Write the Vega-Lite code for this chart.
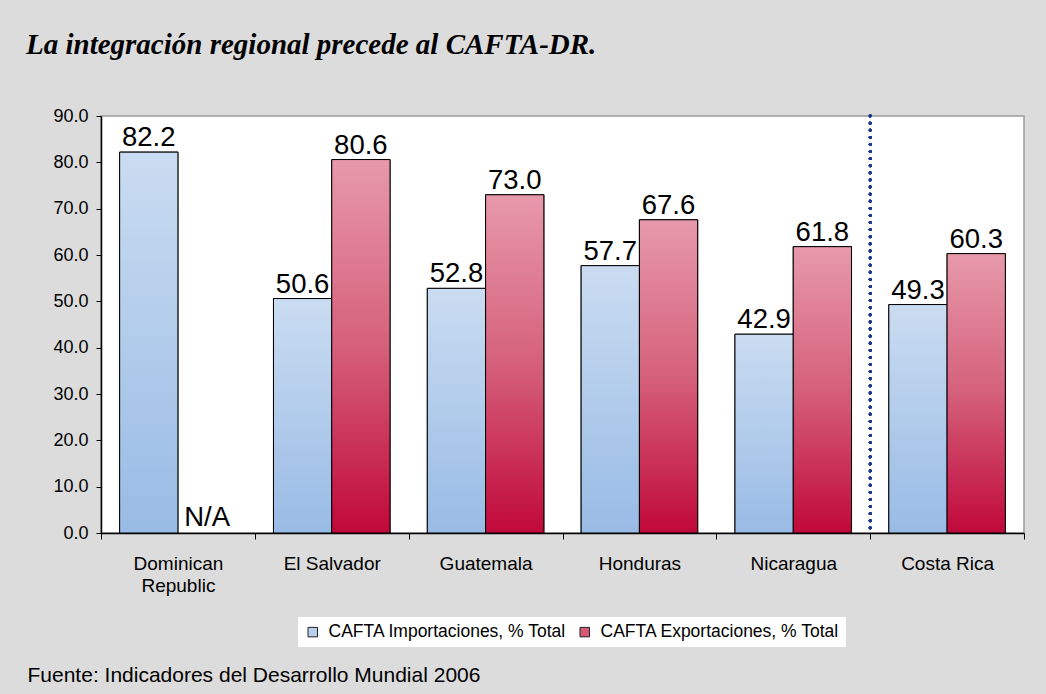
{
  "$schema": "https://vega.github.io/schema/vega-lite/v6.json",
  "width": 923,
  "height": 417,
  "autosize": {"type": "none"},
  "padding": {"left": 101, "top": 116, "right": 22, "bottom": 161},
  "background": "#dcdcdc",
  "config": {
    "view": {"fill": "white", "stroke": "#9a9a9a", "strokeWidth": 1.5},
    "font": "Liberation Sans"
  },
  "title": {
    "text": "La integración regional precede al CAFTA-DR.",
    "font": "Liberation Serif",
    "fontSize": 29,
    "fontWeight": "bold",
    "fontStyle": "italic",
    "anchor": "start",
    "frame": "group",
    "dx": -75,
    "offset": 47,
    "color": "black"
  },
  "data": {
    "values": [
      {"country": "Dominican Republic", "series": "CAFTA Importaciones, % Total", "value": 82.2},
      {"country": "Dominican Republic", "series": "CAFTA Exportaciones, % Total", "value": null},
      {"country": "El Salvador", "series": "CAFTA Importaciones, % Total", "value": 50.6},
      {"country": "El Salvador", "series": "CAFTA Exportaciones, % Total", "value": 80.6},
      {"country": "Guatemala", "series": "CAFTA Importaciones, % Total", "value": 52.8},
      {"country": "Guatemala", "series": "CAFTA Exportaciones, % Total", "value": 73.0},
      {"country": "Honduras", "series": "CAFTA Importaciones, % Total", "value": 57.7},
      {"country": "Honduras", "series": "CAFTA Exportaciones, % Total", "value": 67.6},
      {"country": "Nicaragua", "series": "CAFTA Importaciones, % Total", "value": 42.9},
      {"country": "Nicaragua", "series": "CAFTA Exportaciones, % Total", "value": 61.8},
      {"country": "Costa Rica", "series": "CAFTA Importaciones, % Total", "value": 49.3},
      {"country": "Costa Rica", "series": "CAFTA Exportaciones, % Total", "value": 60.3}
    ]
  },
  "encoding": {
    "x": {
      "field": "country",
      "type": "nominal",
      "sort": null,
      "scale": {"paddingInner": 0, "paddingOuter": 0},
      "axis": {
        "title": "Fuente: Indicadores del Desarrollo Mundial 2006",
        "titleFont": "Liberation Sans",
        "titleFontSize": 21,
        "titleFontWeight": "normal",
        "titleColor": "black",
        "titleAnchor": "start",
        "titleAlign": "left",
        "titleBaseline": "alphabetic",
        "titleX": -74,
        "titleY": 148,
        "labelAngle": 0,
        "labelFontSize": 19,
        "labelColor": "black",
        "labelLineHeight": 22,
        "labelPadding": 15,
        "labelExpr": "datum.label == 'Dominican Republic' ? ['Dominican', 'Republic'] : datum.label",
        "tickBand": "extent",
        "tickSize": 6,
        "tickColor": "black",
        "domainColor": "black",
        "domainWidth": 1.5
      }
    }
  },
  "layer": [
    {
      "mark": {"type": "bar", "stroke": "black", "strokeWidth": 1},
      "encoding": {
        "xOffset": {"field": "series", "sort": null, "scale": {"paddingOuter": 0.32, "paddingInner": 0}},
        "y": {
          "field": "value",
          "type": "quantitative",
          "scale": {"domain": [0, 90], "nice": false},
          "axis": {
            "title": null,
            "values": [0, 10, 20, 30, 40, 50, 60, 70, 80, 90],
            "format": ".1f",
            "grid": false,
            "tickSize": 5,
            "tickColor": "black",
            "domainColor": "black",
            "domainWidth": 1.5,
            "labelFontSize": 18,
            "labelColor": "black",
            "labelPadding": 8
          }
        },
        "color": {
          "field": "series",
          "type": "nominal",
          "sort": null,
          "scale": {
            "domain": ["CAFTA Importaciones, % Total", "CAFTA Exportaciones, % Total"],
            "range": ["#b8d0ee", "#d65a76"]
          },
          "legend": {
            "orient": "none",
            "legendX": 197,
            "legendY": 501,
            "direction": "horizontal",
            "title": null,
            "fillColor": "white",
            "padding": 6,
            "labelFontSize": 17.5,
            "labelColor": "black",
            "labelLimit": 400,
            "labelOffset": 7,
            "symbolType": "square",
            "symbolSize": 90,
            "symbolOpacity": 1,
            "symbolStrokeColor": "#222222",
            "symbolStrokeWidth": 1,
            "columnPadding": 9
          }
        }
      }
    },
    {
      "transform": [{"filter": "datum.series == 'CAFTA Importaciones, % Total' && isValid(datum.value)"}],
      "mark": {
        "type": "bar",
        "stroke": "black",
        "strokeWidth": 1,
        "color": {"gradient": "linear", "x1": 0, "y1": 0, "x2": 0, "y2": 1, "stops": [{"offset": 0, "color": "#cadcf1"}, {"offset": 1, "color": "#98bbe5"}]}
      },
      "encoding": {
        "xOffset": {"field": "series", "sort": null},
        "y": {"field": "value", "type": "quantitative"}
      }
    },
    {
      "transform": [{"filter": "datum.series == 'CAFTA Exportaciones, % Total' && isValid(datum.value)"}],
      "mark": {
        "type": "bar",
        "stroke": "black",
        "strokeWidth": 1,
        "color": {"gradient": "linear", "x1": 0, "y1": 0, "x2": 0, "y2": 1, "stops": [{"offset": 0, "color": "#e799ab"}, {"offset": 0.5, "color": "#d5607b"}, {"offset": 1, "color": "#c0083a"}]}
      },
      "encoding": {
        "xOffset": {"field": "series", "sort": null},
        "y": {"field": "value", "type": "quantitative"}
      }
    },
    {
      "transform": [{"filter": "isValid(datum.value)"}],
      "mark": {"type": "text", "baseline": "alphabetic", "dy": -6, "fontSize": 27.5, "color": "black"},
      "encoding": {
        "xOffset": {"field": "series", "sort": null},
        "y": {"field": "value", "type": "quantitative"},
        "text": {"field": "value", "type": "quantitative", "format": ".1f"}
      }
    },
    {
      "transform": [{"filter": "!isValid(datum.value)"}],
      "mark": {"type": "text", "baseline": "alphabetic", "dy": -7, "fontSize": 27.5, "color": "black"},
      "encoding": {
        "xOffset": {"field": "series", "sort": null},
        "y": {"datum": 0},
        "text": {"value": "N/A"}
      }
    },
    {
      "mark": {"type": "rule", "color": "#1c3a8c", "strokeWidth": 2.8, "strokeDash": [0.1, 7], "strokeCap": "round"},
      "encoding": {
        "x": {"datum": "Costa Rica", "bandPosition": 0}
      }
    }
  ]
}
